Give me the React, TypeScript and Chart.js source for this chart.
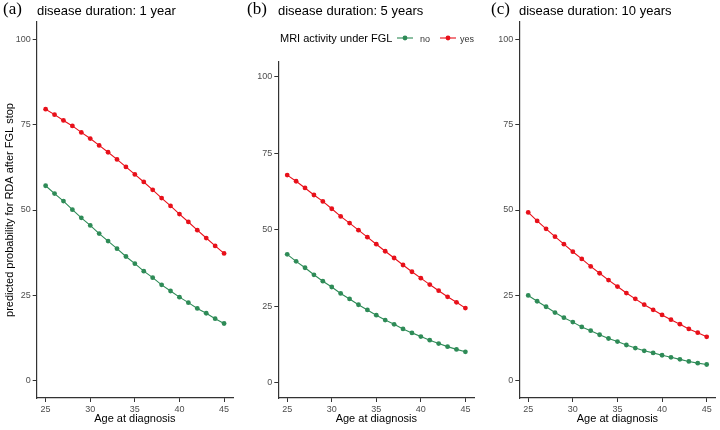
import React, { useEffect, useRef } from 'react';
import Chart from 'chart.js/auto';

// age at diagnosis, one point per year
const ages = [25, 26, 27, 28, 29, 30, 31, 32, 33, 34, 35, 36, 37, 38, 39, 40, 41, 42, 43, 44, 45];

// disease duration 1 year
const yes1 = [79.5, 77.9, 76.2, 74.6, 72.7, 70.9, 68.9, 66.9, 64.8, 62.6, 60.4, 58.2, 55.9, 53.5, 51.2, 48.8, 46.5, 44.1, 41.8, 39.5, 37.3];
const no1 = [57.1, 54.8, 52.6, 50.1, 47.7, 45.5, 43.1, 40.9, 38.7, 36.4, 34.3, 32.1, 30.2, 28.1, 26.3, 24.5, 22.9, 21.2, 19.8, 18.2, 16.8];

// disease duration 5 years
const yes5 = [67.9, 65.9, 63.7, 61.4, 59.3, 56.9, 54.4, 52.2, 49.9, 47.6, 45.3, 43.0, 40.8, 38.5, 36.3, 34.2, 32.1, 30.1, 28.1, 26.3, 24.4];
const no5 = [42.0, 39.7, 37.6, 35.3, 33.2, 31.3, 29.2, 27.4, 25.5, 23.8, 22.1, 20.5, 19.1, 17.6, 16.3, 15.1, 13.9, 12.8, 11.8, 10.9, 10.1];

// disease duration 10 years
const yes10 = [49.3, 46.8, 44.5, 42.2, 40.0, 37.8, 35.7, 33.5, 31.5, 29.5, 27.6, 25.7, 24.0, 22.3, 20.8, 19.3, 17.9, 16.6, 15.2, 14.1, 12.9];
const no10 = [25.0, 23.3, 21.7, 20.0, 18.5, 17.2, 15.8, 14.7, 13.5, 12.4, 11.5, 10.5, 9.6, 8.8, 8.2, 7.5, 6.9, 6.3, 5.7, 5.2, 4.8];

const xTicks = [25, 30, 35, 40, 45];
const yTicks = [0, 25, 50, 75, 100];

const GREEN = '#2E8B57';
const RED = '#E8101A';
const SANS = "'Liberation Sans', Arial, sans-serif";
const SERIF = "'Liberation Serif', 'Times New Roman', serif";

type PanelProps = {
  left: number;
  width: number;
  top: number;
  yWidth: number;
  right: number;
  yTitle?: string;
  no: number[];
  yes: number[];
};

const Panel = ({ left, width, top, yWidth, right, yTitle, no, yes }: PanelProps) => {
  const chartRef = useRef<HTMLCanvasElement>(null);

  useEffect(() => {
    if (!chartRef.current) return;
    const pts = (vals: number[]) => ages.map((a, i) => ({ x: a, y: vals[i] }));
    const ds = (label: string, vals: number[], color: string) => ({
      label,
      data: pts(vals),
      borderColor: color,
      backgroundColor: color,
      borderWidth: 1.1,
      pointRadius: 2.4,
      pointBorderWidth: 0,
      tension: 0,
    });
    const axisLine = { display: true, color: '#333', width: 1.2 };
    const tickGrid = { drawOnChartArea: false, drawTicks: true, tickLength: 4, color: '#333', lineWidth: 1 };

    const myChart = new Chart(chartRef.current, {
      type: 'line',
      data: {
        datasets: [ds('no', no, GREEN), ds('yes', yes, RED)],
      },
      options: {
        animation: false,
        responsive: false,
        layout: { padding: { top, right, left: 0, bottom: 0 } },
        plugins: { legend: { display: false }, tooltip: { enabled: false } },
        scales: {
          x: {
            type: 'linear',
            min: 24,
            max: 46,
            grid: tickGrid,
            border: axisLine,
            afterBuildTicks: (s: any) => { s.ticks = xTicks.map((v) => ({ value: v })); },
            afterFit: (s: any) => { s.height = 32; },
            ticks: { autoSkip: false, maxRotation: 0, color: '#4d4d4d', padding: 2, font: { size: 9, family: SANS } },
            title: {
              display: true,
              text: 'Age at diagnosis',
              color: '#000',
              padding: { top: 0, bottom: 4 },
              font: { size: 11, family: SANS },
            },
          },
          y: {
            type: 'linear',
            min: -5,
            max: 105,
            grid: tickGrid,
            border: axisLine,
            afterBuildTicks: (s: any) => { s.ticks = yTicks.map((v) => ({ value: v })); },
            afterFit: (s: any) => { s.width = yWidth; },
            ticks: { autoSkip: false, color: '#4d4d4d', padding: 2, font: { size: 9, family: SANS } },
            title: {
              display: !!yTitle,
              text: yTitle || '',
              color: '#000',
              padding: { top: 3, bottom: 0 },
              font: { size: 11, family: SANS },
            },
          },
        },
      },
    });

    return () => {
      myChart.destroy();
    };
  }, []);

  return (
    <canvas
      ref={chartRef}
      width={width}
      height={430}
      style={{ position: 'absolute', left, top: 0, width, height: 430 }}
    />
  );
};

const Heading = ({ x, tag, textX, text }: { x: number; tag: string; textX: number; text: string }) => (
  <>
    <div style={{ position: 'absolute', left: x, top: 0, font: `17px/1 ${SERIF}`, color: '#000', whiteSpace: 'nowrap' }}>{tag}</div>
    <div style={{ position: 'absolute', left: textX, top: 4, font: `13px/1 ${SANS}`, color: '#000', whiteSpace: 'nowrap' }}>{text}</div>
  </>
);

const Key = ({ x, color }: { x: number; color: string }) => (
  <svg style={{ position: 'absolute', left: x, top: 33 }} width={16} height={10}>
    <line x1={0} y1={5} x2={16} y2={5} stroke={color} strokeWidth={1.1} />
    <circle cx={8} cy={5} r={2.4} fill={color} />
  </svg>
);

const App = () => {
  return (
    <div style={{ position: 'fixed', left: 0, top: 0, width: 720, height: 430, background: '#fff', overflow: 'hidden' }}>
      <Panel left={0} width={240} top={22} yWidth={36.7} right={7} yTitle="predicted probability for RDA after FGL stop" no={no1} yes={yes1} />
      <Panel left={244} width={240} top={61.7} yWidth={34.3} right={9.7} no={no5} yes={yes5} />
      <Panel left={484} width={236} top={22} yWidth={35.3} right={4.4} no={no10} yes={yes10} />

      <Heading x={3} tag="(a)" textX={37} text="disease duration: 1 year" />
      <Heading x={247} tag="(b)" textX={278} text="disease duration: 5 years" />
      <Heading x={491} tag="(c)" textX={519} text="disease duration: 10 years" />

      <div style={{ position: 'absolute', left: 280, top: 32.7, font: `11px/1 ${SANS}`, color: '#000', whiteSpace: 'nowrap' }}>MRI activity under FGL</div>
      <Key x={397} color={GREEN} />
      <div style={{ position: 'absolute', left: 420, top: 35, font: `9px/1 ${SANS}`, color: '#333' }}>no</div>
      <Key x={440} color={RED} />
      <div style={{ position: 'absolute', left: 460, top: 35, font: `9px/1 ${SANS}`, color: '#333' }}>yes</div>
    </div>
  );
};

export default App;
